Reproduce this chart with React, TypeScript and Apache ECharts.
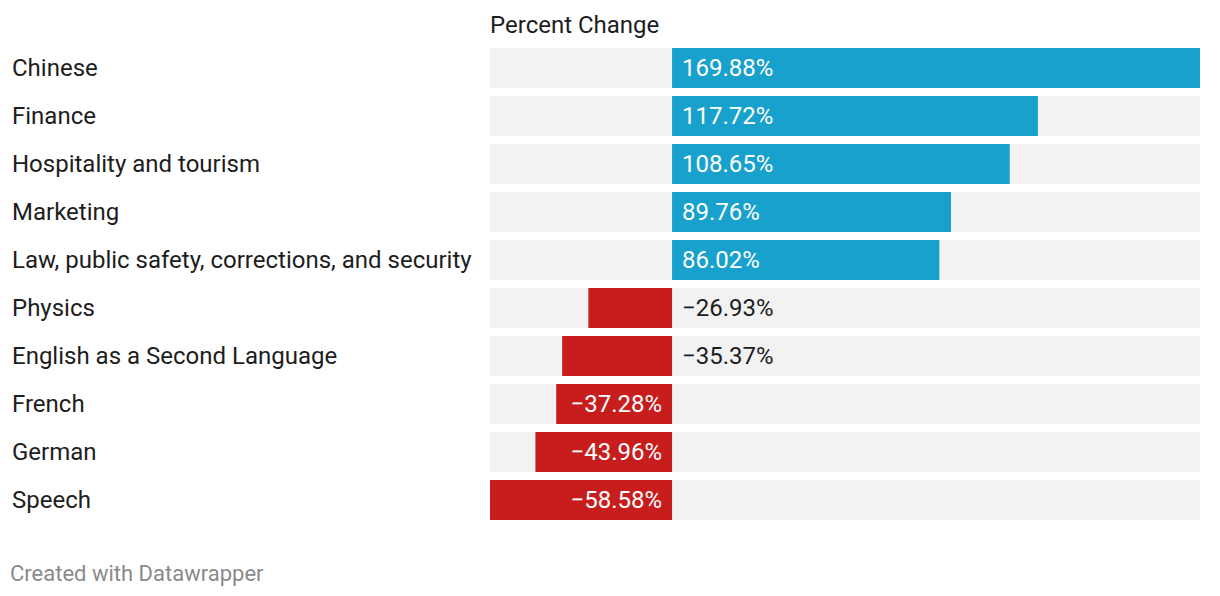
import React, { useEffect, useRef } from "react";
import * as echarts from "echarts";

const categories = [
  "Chinese",
  "Finance",
  "Hospitality and tourism",
  "Marketing",
  "Law, public safety, corrections, and security",
  "Physics",
  "English as a Second Language",
  "French",
  "German",
  "Speech",
];
const values = [169.88, 117.72, 108.65, 89.76, 86.02, -26.93, -35.37, -37.28, -43.96, -58.58];
const insideLabel = [true, true, true, true, true, false, false, true, true, true];

const BLUE = "#18a1cd";
const RED = "#c71e1d";
const FONT = "Roboto";
const FS = 24;

function fmt(v: number) {
  const s = Math.abs(v).toFixed(2) + "%";
  return v < 0 ? "\u2212" + s : s;
}

export default function App() {
  const ref = useRef<HTMLDivElement>(null);
  useEffect(() => {
    if (!ref.current) return;
    const chart = echarts.init(ref.current, null, { renderer: "svg" });
    const data = values.map((v, i) => {
      const neg = v < 0;
      let position: string = neg ? "insideRight" : "insideLeft";
      let color = "#ffffff";
      if (!insideLabel[i]) {
        position = "right";
        color = "#1d1d1d";
      }
      return {
        value: v,
        itemStyle: { color: neg ? RED : BLUE },
        label: { position, color },
      };
    });
    chart.setOption({
      animation: false,
      textStyle: { fontFamily: FONT },
      grid: { left: 490, right: 20, top: 44, height: 480, containLabel: false },
      graphic: [
        {
          type: "text",
          left: 490,
          top: 13,
          style: { text: "Percent Change", font: `${FS}px ${FONT}`, fill: "#1d1d1d" },
        },
        {
          type: "text",
          left: 10,
          top: 562,
          style: { text: "Created with Datawrapper", font: `22px ${FONT}`, fill: "#8a8a8a" },
        },
      ],
      xAxis: {
        type: "value",
        min: -58.58,
        max: 169.88,
        show: false,
        splitLine: { show: false },
      },
      yAxis: {
        type: "category",
        data: categories,
        inverse: true,
        axisLine: { show: false },
        axisTick: { show: false },
        splitLine: { show: false },
        axisLabel: {
          align: "left",
          margin: 478,
          fontSize: FS,
          fontFamily: FONT,
          color: "#1d1d1d",
        },
      },
      series: [
        {
          type: "bar",
          data,
          barWidth: 40,
          showBackground: true,
          backgroundStyle: { color: "#f2f2f2" },
          label: {
            show: true,
            distance: 10,
            fontSize: FS,
            fontFamily: FONT,
            formatter: (p: any) => fmt(p.value),
          },
        },
      ],
    });
    return () => chart.dispose();
  }, []);
  return (
    <div
      ref={ref}
      style={{ position: "fixed", left: 0, top: 0, width: 1220, height: 596, background: "#fff" }}
    />
  );
}
